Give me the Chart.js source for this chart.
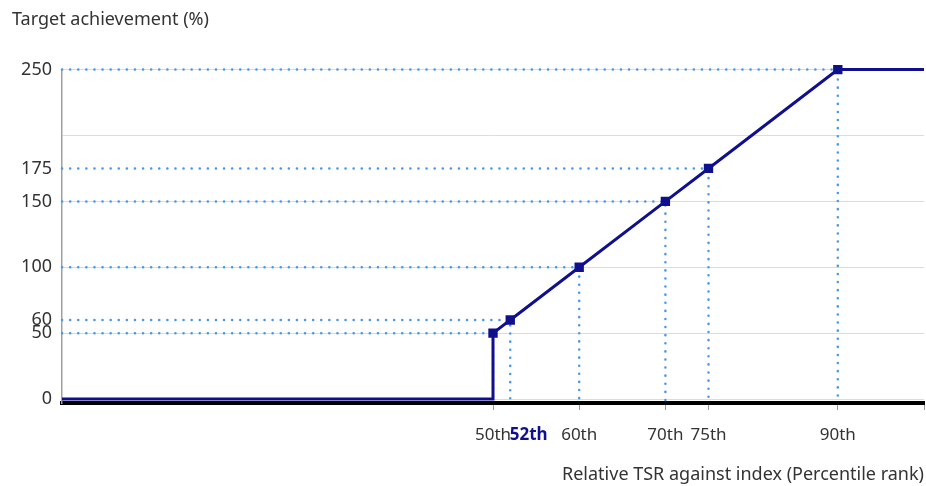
<!DOCTYPE html>
<html>
<head>
<meta charset="utf-8">
<script src="https://cdn.jsdelivr.net/npm/chart.js@4/dist/chart.umd.min.js"></script>
<style>
  html, body { margin: 0; padding: 0; background: #fff; }
  #wrap { width: 926px; height: 486px; }
</style>
</head>
<body>
<div id="wrap"><canvas id="myChart" width="926" height="486"></canvas></div>
<script>
// percentile rank (x) vs target achievement % (y)
var percentiles = [0, 50, 50, 52, 60, 70, 75, 90, 100];
var achievement = [0, 0, 50, 60, 100, 150, 175, 250, 250];

// the marked points that get square markers + dotted guides
var markX = [50, 52, 60, 70, 75, 90];
var markY = [50, 60, 100, 150, 175, 250];

var xTicks = [50, 52, 60, 70, 75, 90, 100];
// 52th label pushed right a bit so it doesn't sit on 50th
var xLabels = ['50th', '\u2002\u2002\u2002\u2002\u200952th', '60th', '70th', '75th', '90th', ''];
var yTicks = [0, 50, 60, 100, 150, 175, 200, 250];
var yLabels = ['0', '50', '60', '100', '150', '175', '', '250'];
var gridAt = [0, 50, 100, 150, 200, 250];

var navy = '#10108e';
var dotBlue = '#4a98e8';

var mainData = percentiles.map(function (p, i) {
  return { x: p, y: achievement[i] };
});

var datasets = [{
  data: mainData,
  borderColor: navy,
  borderWidth: 3,
  pointStyle: 'rect',
  pointRadius: mainData.map(function (d, i) {
    return markX.indexOf(d.x) > -1 && markY.indexOf(d.y) > -1 ? 4.5 : 0;
  }),
  pointBackgroundColor: navy,
  pointBorderColor: navy,
  tension: 0,
  clip: false,
  order: 0
}];

// dotted guide for each marked point
markX.forEach(function (mx, i) {
  datasets.push({
    data: [{ x: 0, y: markY[i] }, { x: mx, y: markY[i] }, { x: mx, y: -3 }],
    borderColor: dotBlue,
    borderWidth: 2.5,
    borderDash: [0.1, 8],
    borderCapStyle: 'round',
    pointRadius: 0,
    clip: false,
    order: 1
  });
});

const ctx = document.getElementById('myChart');
let chart = new Chart(ctx, {
  type: 'line',
  data: { datasets: datasets },
  options: {
    responsive: false,
    animation: false,
    layout: { padding: { left: 12, right: 2, top: 9, bottom: 0 } },
    plugins: {
      legend: { display: false },
      tooltip: { enabled: false },
      title: {
        display: true,
        text: 'Target achievement (%)',
        align: 'start',
        color: '#333',
        font: { family: 'Noto Sans', size: 18, weight: 'normal' },
        padding: { top: 0, bottom: 39 }
      }
    },
    scales: {
      x: {
        type: 'linear',
        min: 0,
        max: 100,
        afterBuildTicks: function (scale) {
          scale.ticks = xTicks.map(function (v) { return { value: v }; });
        },
        afterFit: function (scale) {
          scale.height = 83;
          scale.paddingLeft = 0;
          scale.paddingRight = 0;
        },
        ticks: {
          autoSkip: false,
          maxRotation: 0,
          padding: 15,
          callback: function (v) {
            return xLabels[xTicks.indexOf(v)];
          },
          color: function (c) {
            return c.tick && c.tick.value === 52 ? navy : '#333';
          },
          font: function (c) {
            var bold = c.tick && c.tick.value === 52;
            return { family: 'Noto Sans', size: 17, weight: bold ? 'bold' : 'normal' };
          }
        },
        grid: {
          drawOnChartArea: false,
          drawTicks: true,
          tickLength: 7,
          tickColor: function (c) {
            return c.tick && c.tick.value === 52 ? 'rgba(0,0,0,0)' : '#999';
          }
        },
        border: { color: '#000', width: 4 },
        title: {
          display: true,
          text: 'Relative TSR against index (Percentile rank)',
          align: 'end',
          color: '#333',
          font: { family: 'Noto Sans', size: 18 },
          padding: { top: 10, bottom: 0 }
        }
      },
      y: {
        type: 'linear',
        min: -3,
        max: 250,
        afterBuildTicks: function (scale) {
          scale.ticks = yTicks.map(function (v) { return { value: v }; });
        },
        afterFit: function (scale) { scale.width = 50; },
        ticks: {
          autoSkip: false,
          padding: 10,
          color: '#333',
          font: { family: 'Noto Sans', size: 18 },
          callback: function (v) {
            return yLabels[yTicks.indexOf(v)];
          }
        },
        grid: {
          drawTicks: false,
          lineWidth: 1,
          color: function (c) {
            return c.tick && gridAt.indexOf(c.tick.value) > -1 ? '#dcdcdc' : 'rgba(0,0,0,0)';
          }
        },
        border: { color: '#a0a0a0', width: 1.5 }
      }
    }
  }
});
</script>
</body>
</html>
